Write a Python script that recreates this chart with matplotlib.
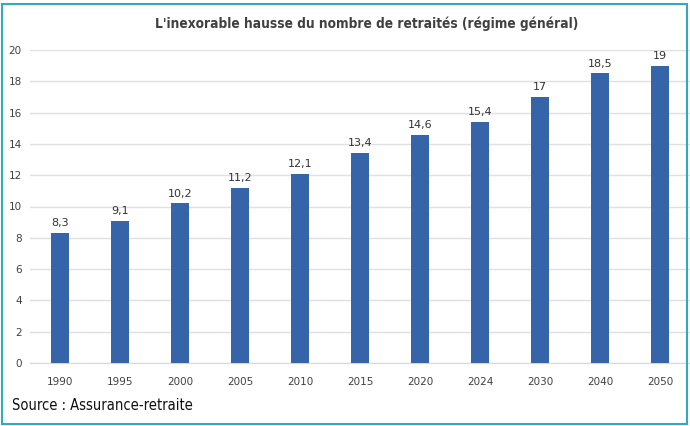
import matplotlib
matplotlib.use("Agg")
import matplotlib.pyplot as plt
from matplotlib.patches import Rectangle

years = ["1990", "1995", "2000", "2005", "2010", "2015", "2020", "2024", "2030", "2040", "2050"]
values = [8.3, 9.1, 10.2, 11.2, 12.1, 13.4, 14.6, 15.4, 17, 18.5, 19]
labels = ["8,3", "9,1", "10,2", "11,2", "12,1", "13,4", "14,6", "15,4", "17", "18,5", "19"]
yticks = [0, 2, 4, 6, 8, 10, 12, 14, 16, 18, 20]

W, H = 690, 426
fig = plt.figure(figsize=(W / 100, H / 100), dpi=100)
fig.patch.set_facecolor("white")

ax = fig.add_axes([30 / W, 1 - 363 / H, 660 / W, 313 / H])
x = list(range(len(years)))
bars = ax.bar(x, values, width=0.3, color="#3565a8", zorder=3)
ax.set_xlim(-0.5, len(years) - 0.5)
ax.set_ylim(0, 20)
ax.set_yticks(yticks)
ax.set_yticklabels([str(t) for t in yticks])
ax.set_xticks(x)
ax.set_xticklabels(years)
ax.grid(axis="y", color="#e0e0e0", linewidth=1, zorder=0)
for s in ax.spines.values():
    s.set_visible(False)
ax.spines["bottom"].set_visible(True)
ax.spines["bottom"].set_color("#d9d9d9")
ax.tick_params(axis="both", length=0, labelsize=7.5, labelcolor="#404040")
ax.tick_params(axis="x", pad=10)
ax.tick_params(axis="y", pad=6)
for xi, v, lab in zip(x, values, labels):
    ax.annotate(lab, (xi, v), xytext=(0, 3.5), textcoords="offset points",
                ha="center", va="bottom", fontsize=8, color="#333333")

fig.text(367 / W, 1 - 24 / H, "L'inexorable hausse du nombre de retraités (régime général)",
         ha="center", va="center", fontsize=9.8, fontweight="bold", color="#404040",
         family="DejaVu Sans", fontstretch="condensed")
fig.text(12 / W, 1 - 406 / H, "Source : Assurance-retraite", ha="left", va="center",
         fontsize=10.5, color="#111111", family="DejaVu Sans", fontstretch="condensed")

fig.patches.append(Rectangle((2 / W, 2 / H), 685 / W, 420 / H, transform=fig.transFigure,
                             fill=False, edgecolor="#2fa9c6", linewidth=1.5))
fig.savefig("out.png", dpi=100)
